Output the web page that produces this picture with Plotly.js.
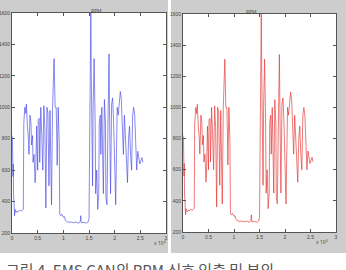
<!DOCTYPE html>
<html><head><meta charset="utf-8">
<script src="https://cdn.plot.ly/plotly-3.0.1.min.js"></script>
<style>html,body{margin:0;padding:0;background:#fff}#c{width:346px;height:270px}</style>
</head><body><div id="c"></div>
<script>
// sample index (x10^4) and RPM values
const sampleX = [0,0.01,0.02,0.025,0.03,0.035,0.04,0.05,0.06,0.08,0.10,0.12,0.15,0.18,0.20,0.22,
0.23,0.25,0.27,0.28,0.30,0.32,0.33,0.35,0.37,0.38,0.40,0.41,0.43,0.45,0.46,0.48,0.50,0.51,0.53,0.54,0.56,0.58,0.60,0.62,0.64,0.66,0.68,0.70,0.72,0.74,0.76,0.77,0.79,0.81,0.82,0.84,0.86,0.87,0.88,0.90,0.92,0.93,0.95,
0.97,1.00,1.02,1.04,1.06,1.10,1.15,1.20,1.25,1.30,1.33,1.34,1.35,1.40,1.45,1.48,1.50,
1.51,1.52,1.535,1.545,1.55,1.57,1.58,1.60,1.62,1.63,1.65,1.67,1.69,1.70,1.72,1.73,1.75,1.77,1.78,1.80,1.82,1.83,1.85,1.87,1.89,1.90,1.92,1.94,1.96,1.98,2.00,2.02,2.03,2.05,2.07,2.09,2.11,2.13,2.15,2.17,2.19,2.21,2.23,2.25,2.27,2.29,2.31,2.33,2.35,2.37,2.39,2.41,2.43,2.45,2.47,2.49,2.51,2.53,2.55];
const rpm = [820,780,560,640,450,380,330,310,350,330,340,335,345,340,345,350,
900,1000,960,1020,880,800,700,950,900,760,820,650,700,520,560,880,600,920,930,650,1000,820,600,1010,870,360,1000,960,500,980,700,380,1000,1150,1310,1000,1000,850,630,1000,780,320,310,
320,300,305,280,275,268,270,265,270,262,275,310,265,268,262,270,290,
700,1200,1600,1200,900,500,1000,1310,900,450,600,350,450,900,950,700,1000,600,450,1050,900,420,380,900,1340,1000,450,1020,1060,900,500,380,600,1000,950,1040,1100,1050,850,700,950,780,640,520,800,880,700,600,950,1000,950,700,600,720,680,640,660,680,650];
const xTicks = [0,0.5,1,1.5,2,2.5,3];
const xTickText = ['0','0.5','1','1.5','2','2.5','3'];
const yTicks = [200,400,600,800,1000,1200,1400,1600];
const yTickText = ['200','400','600','800','1000','1200','1400','1600'];
const panelTitle = 'RPM';
const caption = '그림 4. EMS CAN의 RPM 신호 입출 및 분의';

const W=346,H=270;
const px = v=>v/W, py = v=>(H-v)/H;
const axBase = {showgrid:false,zeroline:false,showline:true,linecolor:'#555',linewidth:1,
  mirror:'ticks',ticks:'inside',ticklen:3,tickcolor:'#555',
  tickfont:{family:'Liberation Sans, Arial',size:5,color:'#444'}};
const data = [
 {x:sampleX,y:rpm,type:'scatter',mode:'lines',line:{color:'rgba(70,70,230,0.8)',width:0.8},xaxis:'x',yaxis:'y',hoverinfo:'skip'},
 {x:sampleX,y:rpm,type:'scatter',mode:'lines',line:{color:'rgba(228,45,45,0.8)',width:0.8},xaxis:'x2',yaxis:'y2',hoverinfo:'skip'}
];
const layout = {
 width:W,height:H,margin:{l:0,r:0,t:0,b:0},paper_bgcolor:'#cdcdcd',plot_bgcolor:'#fff',showlegend:false,
 xaxis:Object.assign({},axBase,{domain:[px(12),px(166)],range:[0,3],tickvals:xTicks,ticktext:xTickText,anchor:'y'}),
 yaxis:Object.assign({},axBase,{domain:[py(233),py(13)],range:[200,1600],tickvals:yTicks,ticktext:yTickText,anchor:'x'}),
 xaxis2:Object.assign({},axBase,{domain:[px(183),px(336)],range:[0,3],tickvals:xTicks,ticktext:xTickText,anchor:'y2'}),
 yaxis2:Object.assign({},axBase,{domain:[py(232),py(14)],range:[200,1600],tickvals:yTicks,ticktext:yTickText,anchor:'x2'}),
 shapes:[
  {type:'rect',xref:'paper',yref:'paper',x0:0,x1:1,y0:0,y1:py(253),fillcolor:'#fff',line:{width:0},layer:'below'},
  {type:'rect',xref:'paper',yref:'paper',x0:px(168),x1:px(171),y0:py(253),y1:1,fillcolor:'#fff',line:{width:0},layer:'below'}
 ],
 annotations:[
  {xref:'paper',yref:'paper',x:px(89),y:py(6),text:panelTitle,showarrow:false,font:{size:5,color:'#444'}},
  {xref:'paper',yref:'paper',x:px(259),y:py(7),text:panelTitle,showarrow:false,font:{size:5,color:'#444'}},
  {xref:'paper',yref:'paper',x:px(160),y:py(248),text:'x 10<sup>4</sup>',showarrow:false,font:{size:5,color:'#444'}},
  {xref:'paper',yref:'paper',x:px(330),y:py(247),text:'x 10<sup>4</sup>',showarrow:false,font:{size:5,color:'#444'}},
  {xref:'paper',yref:'paper',x:px(4),y:py(269),xanchor:'left',yanchor:'middle',text:caption,showarrow:false,
   font:{family:'Noto Sans CJK KR',size:15,color:'#555'}}
 ]
};
Plotly.newPlot('c',data,layout,{staticPlot:true});
</script></body></html>
